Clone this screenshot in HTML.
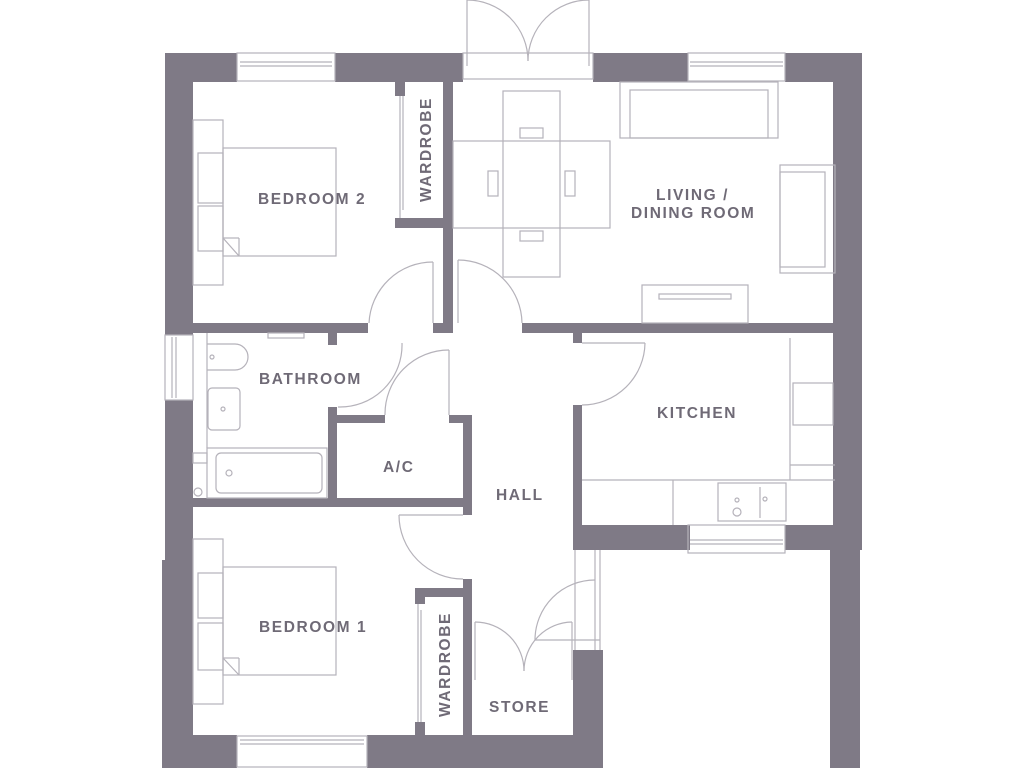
<!DOCTYPE html>
<html><head><style>
html,body{margin:0;padding:0;background:#fff;}
svg{display:block}
text{font-family:"Liberation Sans",sans-serif;font-weight:bold;fill:#6f6a76;font-size:15.5px;letter-spacing:1.6px}
</style></head><body>
<svg width="1024" height="768" viewBox="0 0 1024 768" xmlns="http://www.w3.org/2000/svg">
<g fill="#7f7a86">
<rect x="165" y="53" width="72" height="29"/>
<rect x="335" y="53" width="128" height="29"/>
<rect x="593" y="53" width="95" height="29"/>
<rect x="785" y="53" width="77" height="29"/>
<rect x="165" y="53" width="28" height="282"/>
<rect x="165" y="400" width="28" height="160"/>
<rect x="162" y="560" width="31" height="208"/>
<rect x="833" y="53" width="29" height="497"/>
<rect x="830" y="548" width="30" height="220"/>
<rect x="162" y="735" width="75" height="33"/>
<rect x="367" y="735" width="236" height="33"/>
<rect x="573" y="650" width="30" height="118"/>
<rect x="443" y="82" width="10" height="251"/>
<rect x="395" y="82" width="10" height="14"/>
<rect x="395" y="218" width="58" height="10"/>
<rect x="193" y="323" width="175" height="10"/>
<rect x="433" y="323" width="20" height="10"/>
<rect x="522" y="323" width="313" height="10"/>
<rect x="328" y="333" width="9" height="12"/>
<rect x="328" y="407" width="9" height="100"/>
<rect x="337" y="415" width="48" height="8"/>
<rect x="449" y="415" width="23" height="8"/>
<rect x="463" y="415" width="9" height="100"/>
<rect x="193" y="498" width="279" height="9"/>
<rect x="463" y="579" width="9" height="156"/>
<rect x="415" y="588" width="57" height="9"/>
<rect x="415" y="588" width="10" height="16"/>
<rect x="415" y="722" width="10" height="13"/>
<rect x="573" y="333" width="9" height="10"/>
<rect x="573" y="405" width="9" height="145"/>
<rect x="573" y="525" width="117" height="25"/>
<rect x="785" y="525" width="50" height="25"/>
</g>
<g fill="none" stroke="#b5b2ba" stroke-width="1.2">
<rect x="237" y="53" width="98" height="28"/><line x1="240" y1="62" x2="332" y2="62"/><line x1="240" y1="66" x2="332" y2="66"/>
<rect x="688" y="53" width="97" height="28"/><line x1="690" y1="62" x2="783" y2="62"/><line x1="690" y1="66" x2="783" y2="66"/>
<rect x="237" y="736" width="130" height="31"/><line x1="240" y1="740" x2="364" y2="740"/><line x1="240" y1="744" x2="364" y2="744"/>
<rect x="688" y="525" width="97" height="28"/><line x1="690" y1="540" x2="783" y2="540"/><line x1="690" y1="544" x2="783" y2="544"/>
<rect x="165" y="335" width="28" height="65"/><line x1="172" y1="337" x2="172" y2="398"/><line x1="176" y1="337" x2="176" y2="398"/>
<rect x="463" y="53" width="130" height="26"/>
<line x1="467" y1="0" x2="467" y2="66"/><line x1="589" y1="0" x2="589" y2="66"/>
<path d="M467 0 A61 61 0 0 1 528 61"/><path d="M589 0 A61 61 0 0 0 528 61"/>
<line x1="433" y1="262" x2="433" y2="323"/><path d="M433 262 A64 64 0 0 0 369 323"/>
<line x1="458" y1="260" x2="458" y2="323"/><path d="M458 260 A64 64 0 0 1 522 323"/>
<path d="M402 343 A62 62 0 0 1 338 407"/>
<line x1="449" y1="350" x2="449" y2="415"/><path d="M449 350 A64 64 0 0 0 385 415"/>
<path d="M399 515 A64 64 0 0 0 463 579"/><line x1="399" y1="515" x2="463" y2="515"/>
<path d="M645 343 A63 63 0 0 1 582 405"/><line x1="582" y1="343" x2="645" y2="343"/>
<line x1="475" y1="622" x2="475" y2="680"/><path d="M475 622 A49 49 0 0 1 524 671"/>
<line x1="572" y1="622" x2="572" y2="680"/><path d="M572 622 A49 49 0 0 0 524 671"/>
<path d="M595 580 A60 60 0 0 0 535 640"/><line x1="535" y1="640" x2="600" y2="640"/>
<line x1="575" y1="550" x2="575" y2="650"/><line x1="595" y1="550" x2="595" y2="650"/><line x1="600" y1="550" x2="600" y2="650"/>
<line x1="400" y1="96" x2="400" y2="218"/><line x1="403" y1="96" x2="403" y2="210"/>
<line x1="418" y1="604" x2="418" y2="722"/><line x1="421" y1="610" x2="421" y2="722"/>
<rect x="193" y="120" width="30" height="165"/><rect x="223" y="148" width="113" height="108"/>
<rect x="198" y="153" width="25" height="50"/><rect x="198" y="206" width="25" height="45"/>
<line x1="223" y1="238" x2="239" y2="238"/><line x1="239" y1="238" x2="239" y2="256"/><line x1="223" y1="238" x2="239" y2="256"/>
<rect x="193" y="539" width="30" height="165"/><rect x="223" y="567" width="113" height="108"/>
<rect x="198" y="573" width="25" height="45"/><rect x="198" y="623" width="25" height="47"/>
<line x1="223" y1="658" x2="239" y2="658"/><line x1="239" y1="658" x2="239" y2="675"/><line x1="223" y1="658" x2="239" y2="675"/>
<line x1="207" y1="333" x2="207" y2="448"/>
<path d="M207 344 H235 A12 12 0 0 1 235 370 H207"/><circle cx="212" cy="357" r="2"/>
<rect x="208" y="388" width="32" height="42" rx="4"/><circle cx="223" cy="409" r="2"/>
<rect x="207" y="448" width="120" height="50"/><rect x="216" y="453" width="106" height="40" rx="5"/><circle cx="229" cy="473" r="3"/>
<rect x="193" y="453" width="14" height="10"/><circle cx="198" cy="492" r="4"/>
<rect x="268" y="333" width="36" height="5"/>
<rect x="503" y="91" width="57" height="186"/><rect x="453" y="141" width="157" height="87"/>
<rect x="520" y="128" width="23" height="10"/><rect x="520" y="231" width="23" height="10"/>
<rect x="488" y="171" width="10" height="25"/><rect x="565" y="171" width="10" height="25"/>
<rect x="620" y="82" width="158" height="56"/><rect x="630" y="90" width="138" height="48"/>
<rect x="780" y="165" width="55" height="108"/><rect x="780" y="172" width="45" height="95"/>
<rect x="642" y="285" width="106" height="38"/><rect x="659" y="294" width="72" height="5"/>
<line x1="790" y1="338" x2="790" y2="480"/><line x1="582" y1="480" x2="835" y2="480"/>
<line x1="673" y1="480" x2="673" y2="525"/><line x1="790" y1="465" x2="835" y2="465"/>
<rect x="793" y="383" width="40" height="42"/>
<rect x="718" y="483" width="68" height="38"/><line x1="760" y1="487" x2="760" y2="518"/>
<circle cx="737" cy="512" r="4"/><circle cx="765" cy="499" r="2"/><circle cx="737" cy="500" r="2"/>
</g>
<text x="258" y="204">BEDROOM 2</text>
<text x="259" y="384">BATHROOM</text>
<text x="383" y="472">A/C</text>
<text x="496" y="500">HALL</text>
<text x="259" y="632">BEDROOM 1</text>
<text x="489" y="712">STORE</text>
<text x="657" y="418">KITCHEN</text>
<text x="656" y="200">LIVING /</text>
<text x="631" y="218">DINING ROOM</text>
<text transform="translate(431,202) rotate(-90)">WARDROBE</text>
<text transform="translate(450,717) rotate(-90)">WARDROBE</text>
</svg>
</body></html>
